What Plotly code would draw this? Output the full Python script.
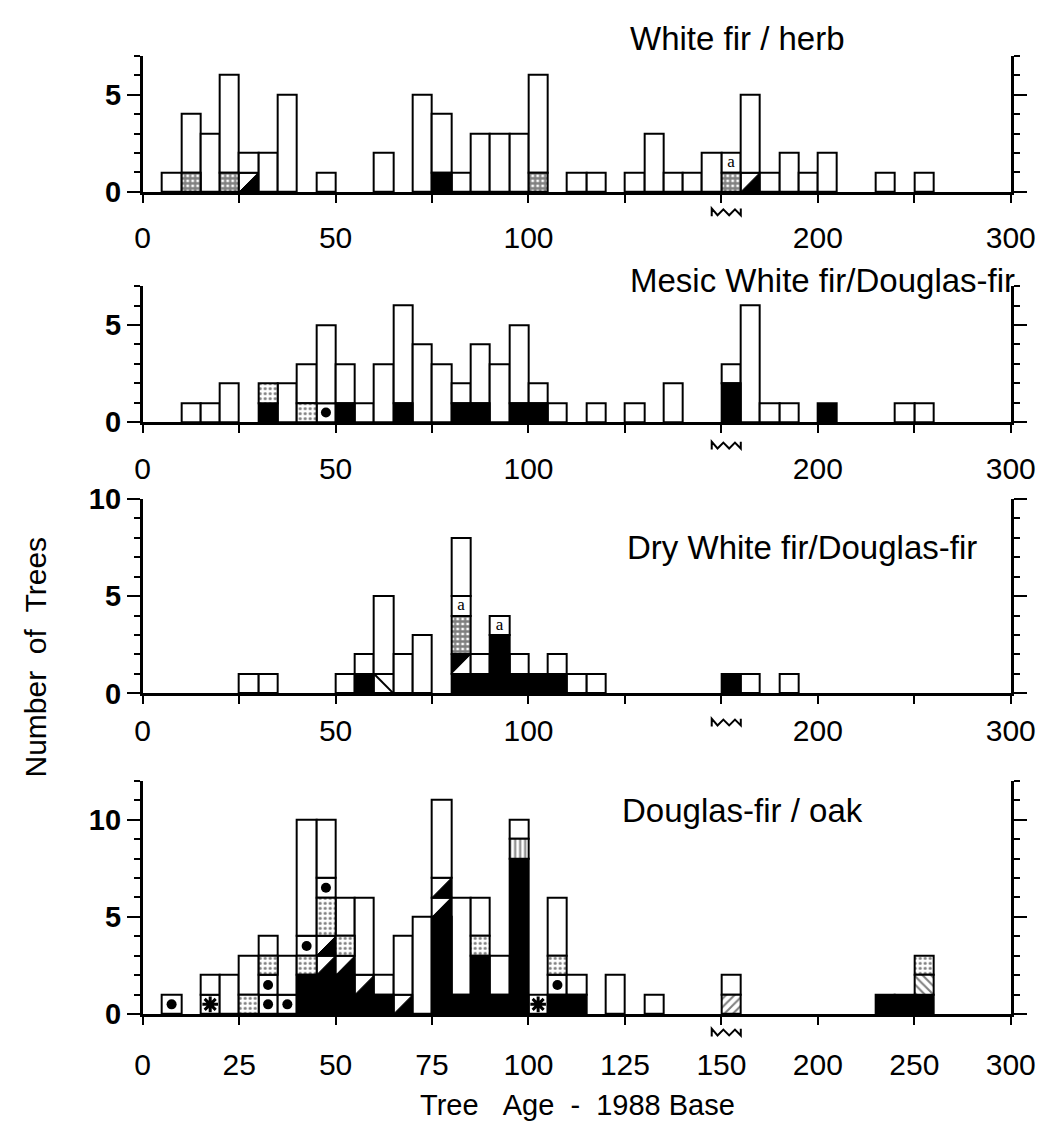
import plotly.graph_objects as go

# ---------------- data ----------------
BREAK_AGE = 150                      # axis is compressed (x1/2) after this age
TICK_AGES = [0, 25, 50, 75, 100, 125, 150, 200, 250, 300]
TICK_TEXT_SPARSE = ["0", "", "50", "", "100", "", "", "200", "", "300"]
TICK_TEXT_FULL = ["0", "25", "50", "75", "100", "125", "150", "200", "250", "300"]

TITLES = ["White fir / herb", "Mesic White fir/Douglas-fir",
          "Dry White fir/Douglas-fir", "Douglas-fir / oak"]

# Cell codes, bottom to top:  O open, B black, G grid, S stippled, P dot,
# A asterisk, a letter "a", T half-black (lower right), U half-black (upper left),
# D diagonal line, H "/" hatch, K "\" hatch, V vertical lines
P1_AGES = [5, 10, 15, 20, 25, 30, 35, 45, 60, 70, 75, 80, 85, 90, 95, 100,
           110, 115, 125, 130, 135, 140, 145, 150, 160, 170, 180, 190, 200, 230, 250]
P1_STACKS = ["O", "GOOO", "OOO", "GOOOOO", "TO", "OO", "OOOOO", "O", "OO", "OOOOO",
             "BOOO", "O", "OOO", "OOO", "OOO", "GOOOOO",
             "O", "O", "O", "OOO", "O", "O", "OO", "Ga", "TOOOO", "O", "OO", "O", "OO", "O", "O"]

P2_AGES = [10, 15, 20, 30, 35, 40, 45, 50, 55, 60, 65, 70, 75, 80, 85, 90, 95, 100,
           105, 115, 125, 135, 150, 160, 170, 180, 200, 240, 250]
P2_STACKS = ["O", "O", "OO", "BS", "OO", "SOO", "POOOO", "BOO", "O", "OOO", "BOOOOO",
             "OOOO", "OOO", "BO", "BOOO", "OOO", "BOOOO", "BO",
             "O", "O", "O", "OO", "BBO", "OOOOOO", "O", "O", "B", "O", "O"]

P3_AGES = [25, 30, 50, 55, 60, 65, 70, 80, 85, 90, 95, 100, 105, 110, 115, 150, 160, 180]
P3_STACKS = ["O", "O", "O", "BO", "DOOOO", "OO", "OOO", "BUGGaOOO", "BO", "BBBa", "BO",
             "B", "BO", "O", "O", "B", "O", "O"]

P4_AGES = [5, 15, 20, 25, 30, 35, 40, 45, 50, 55, 60, 65, 70, 75, 80, 85, 90, 95,
           100, 105, 110, 120, 130, 150, 230, 240, 250]
P4_STACKS = ["P", "AO", "OO", "SOO", "PPSO", "POO", "BBSPOOOOOO", "BBTTSSPOOO", "BBTSOO",
             "BTOOOO", "BO", "TOOO", "OOOOO", "BBBBBTTOOOO", "BOOOOO", "BBBSOO", "BOO",
             "BBBBBBBBVO", "A", "BPSOOO", "BO", "OO", "O", "HO", "B", "B", "BKS"]

PANELS = [(P1_AGES, P1_STACKS), (P2_AGES, P2_STACKS), (P3_AGES, P3_STACKS), (P4_AGES, P4_STACKS)]
Y_MAX = [7, 7, 10, 12]

# ---------------- layout geometry (pixels) ----------------
W, H = 1060, 1136
X_PX0, X_PX1 = 139, 1035
PANEL_PX = [(181, 41), (418, 278), (697, 497), (1027, 787)]   # (baseline, top)
TITLE_PX = [(640, 23), (640, 272), (637, 547), (632, 818)]     # left edge, centre y
STANDOFF = [9, 10, 1, 14]
BREAK_MARK_DY = [17, 20, 26, 15]
FONT = "Liberation Sans, Arial, Helvetica, sans-serif"


def pos(age):
    return age if age <= BREAK_AGE else BREAK_AGE + (age - BREAK_AGE) / 2.0


def bin_end(start):
    return start + (5 if start < BREAK_AGE else 10)


X_MAX = pos(300)
MERGE = set("OBGSHKV")

BAR_STYLE = {
    "O": dict(color="white"),
    "B": dict(color="black"),
    "G": dict(color="white", pattern=dict(shape="+", fgcolor="black", size=5, solidity=0.7)),
    "S": dict(color="white", pattern=dict(shape=".", fgcolor="black", size=5, solidity=0.3)),
    "H": dict(color="white", pattern=dict(shape="/", fgcolor="black", size=6, solidity=0.35)),
    "K": dict(color="white", pattern=dict(shape="\\", fgcolor="black", size=6, solidity=0.35)),
    "V": dict(color="white", pattern=dict(shape="|", fgcolor="black", size=5, solidity=0.4)),
}


def segments(stack):
    segs, i = [], 0
    while i < len(stack):
        c = stack[i]
        if c in MERGE:
            j = i
            while j < len(stack) and stack[j] == c:
                j += 1
            segs.append((c, i, j - i))
            i = j
        else:
            segs.append((c, i, 1))
            i += 1
    return segs


fig = go.Figure()

for k, (ages, stacks) in enumerate(PANELS):
    n = k + 1
    xa, ya = ("x" if n == 1 else f"x{n}"), ("y" if n == 1 else f"y{n}")
    groups = {}
    tri_x, tri_y, utri_x, utri_y, dl_x, dl_y = [], [], [], [], [], []
    dots_x, dots_y, ast_x, ast_y, a_x, a_y = [], [], [], [], [], []
    for age, stack in zip(ages, stacks):
        x0, x1 = pos(age), pos(bin_end(age))
        xc, w = (x0 + x1) / 2, x1 - x0
        for code, b, h in segments(stack):
            key = code if code in BAR_STYLE else "O"
            g = groups.setdefault(key, dict(x=[], base=[], y=[], width=[]))
            g["x"].append(xc); g["base"].append(b); g["y"].append(h); g["width"].append(w)
            if code == "T":
                tri_x += [x0, x1, x1, x0, None]; tri_y += [b, b, b + 1, b, None]
            elif code == "U":
                utri_x += [x0, x1, x0, x0, None]; utri_y += [b + 1, b + 1, b, b + 1, None]
            elif code == "D":
                dl_x += [x0, x1, None]; dl_y += [b + 1, b, None]
            elif code == "P":
                dots_x.append(xc); dots_y.append(b + 0.5)
            elif code == "A":
                ast_x.append(xc); ast_y.append(b + 0.5)
            elif code == "a":
                a_x.append(xc); a_y.append(b + 0.5)
    for key, g in groups.items():
        fig.add_trace(go.Bar(x=g["x"], y=g["y"], base=g["base"], width=g["width"],
                             marker=dict(line=dict(color="black", width=2), **BAR_STYLE[key]),
                             xaxis=xa, yaxis=ya, hoverinfo="skip"))
    for tx, ty in ((tri_x, tri_y), (utri_x, utri_y)):
        if tx:
            fig.add_trace(go.Scatter(x=tx, y=ty, mode="lines", fill="toself", fillcolor="black",
                                     line=dict(color="black", width=1), xaxis=xa, yaxis=ya,
                                     hoverinfo="skip"))
    if dl_x:
        fig.add_trace(go.Scatter(x=dl_x, y=dl_y, mode="lines", line=dict(color="black", width=2),
                                 xaxis=xa, yaxis=ya, hoverinfo="skip"))
    if dots_x:
        fig.add_trace(go.Scatter(x=dots_x, y=dots_y, mode="markers",
                                 marker=dict(symbol="circle", size=10, color="black"),
                                 xaxis=xa, yaxis=ya, hoverinfo="skip"))
    if ast_x:
        fig.add_trace(go.Scatter(x=ast_x, y=ast_y, mode="markers",
                                 marker=dict(symbol="asterisk-open", size=13, color="black",
                                             line=dict(color="black", width=3)),
                                 xaxis=xa, yaxis=ya, hoverinfo="skip"))
    if a_x:
        fig.add_trace(go.Scatter(x=a_x, y=a_y, mode="text", text=["a"] * len(a_x),
                                 textfont=dict(family="Liberation Serif, serif", size=17, color="black"),
                                 xaxis=xa, yaxis=ya, hoverinfo="skip"))

    base_px, top_px = PANEL_PX[k]
    xkey = "xaxis" if n == 1 else f"xaxis{n}"
    ykey = "yaxis" if n == 1 else f"yaxis{n}"
    fig.layout[xkey] = dict(
        domain=[X_PX0 / W, X_PX1 / W], range=[0, X_MAX], anchor=ya,
        tickmode="array", tickvals=[pos(a) for a in TICK_AGES],
        ticktext=TICK_TEXT_FULL if n == 4 else TICK_TEXT_SPARSE,
        ticks="outside", ticklen=8, tickwidth=2, tickcolor="black",
        showline=True, linewidth=2.5, linecolor="black", showgrid=False, zeroline=False,
        tickfont=dict(family=FONT, size=30, color="black"), ticklabelstandoff=STANDOFF[k],
        ticklabeloverflow="allow", fixedrange=True)
    fig.layout[ykey] = dict(
        domain=[1 - base_px / H, 1 - top_px / H], range=[0, Y_MAX[k]], anchor=xa,
        tickmode="linear", tick0=0, dtick=5,
        ticks="outside", ticklen=13, tickwidth=2, tickcolor="black",
        minor=dict(tickmode="linear", tick0=0, dtick=1, ticks="outside", ticklen=6,
                   tickwidth=2, tickcolor="black", showgrid=False),
        showline=True, linewidth=2.5, linecolor="black", mirror="ticks",
        showgrid=False, zeroline=False,
        tickfont=dict(family=FONT, size=29, color="black", weight="bold"),
        fixedrange=True)

    # title
    tx, ty = TITLE_PX[k]
    fig.add_annotation(text=TITLES[k], x=tx / W, y=1 - ty / H, xref="paper", yref="paper",
                       xanchor="left", yanchor="middle", showarrow=False,
                       font=dict(family=FONT, size=33, color="black"))

    # axis-break zigzag under age 150
    bx = X_PX0 + pos(BREAK_AGE) / X_MAX * (X_PX1 - X_PX0) - 10
    by = base_px + BREAK_MARK_DY[k]
    zig = [(0, 8), (0, 0), (6, 7), (12, 1), (18, 7), (24, 1), (30, 7), (30, 0)]
    path = "M " + " L ".join(f"{(bx + dx) / W:.5f},{1 - (by + dy) / H:.5f}" for dx, dy in zig)
    fig.add_shape(type="path", path=path, xref="paper", yref="paper",
                  line=dict(color="black", width=2))

fig.add_annotation(text="Number\u00a0\u00a0of\u00a0\u00a0Trees", x=28 / W, y=1 - 660 / H,
                   xref="paper", yref="paper", textangle=-90, showarrow=False,
                   xanchor="center", yanchor="middle",
                   font=dict(family=FONT, size=30, color="black"))
fig.add_annotation(text="Tree\u00a0\u00a0\u00a0Age\u00a0\u00a0-\u00a0\u00a01988\u00a0Base",
                   x=588 / W, y=1 - 1121 / H, xref="paper", yref="paper", showarrow=False,
                   xanchor="center", yanchor="middle",
                   font=dict(family=FONT, size=29, color="black"))

fig.update_layout(width=W, height=H, margin=dict(l=0, r=0, t=0, b=0),
                  barmode="overlay", showlegend=False, bargap=0,
                  plot_bgcolor="white", paper_bgcolor="white")

fig.write_html("out.html", config={"displayModeBar": False},
               post_script="document.body.style.margin='0px';")
